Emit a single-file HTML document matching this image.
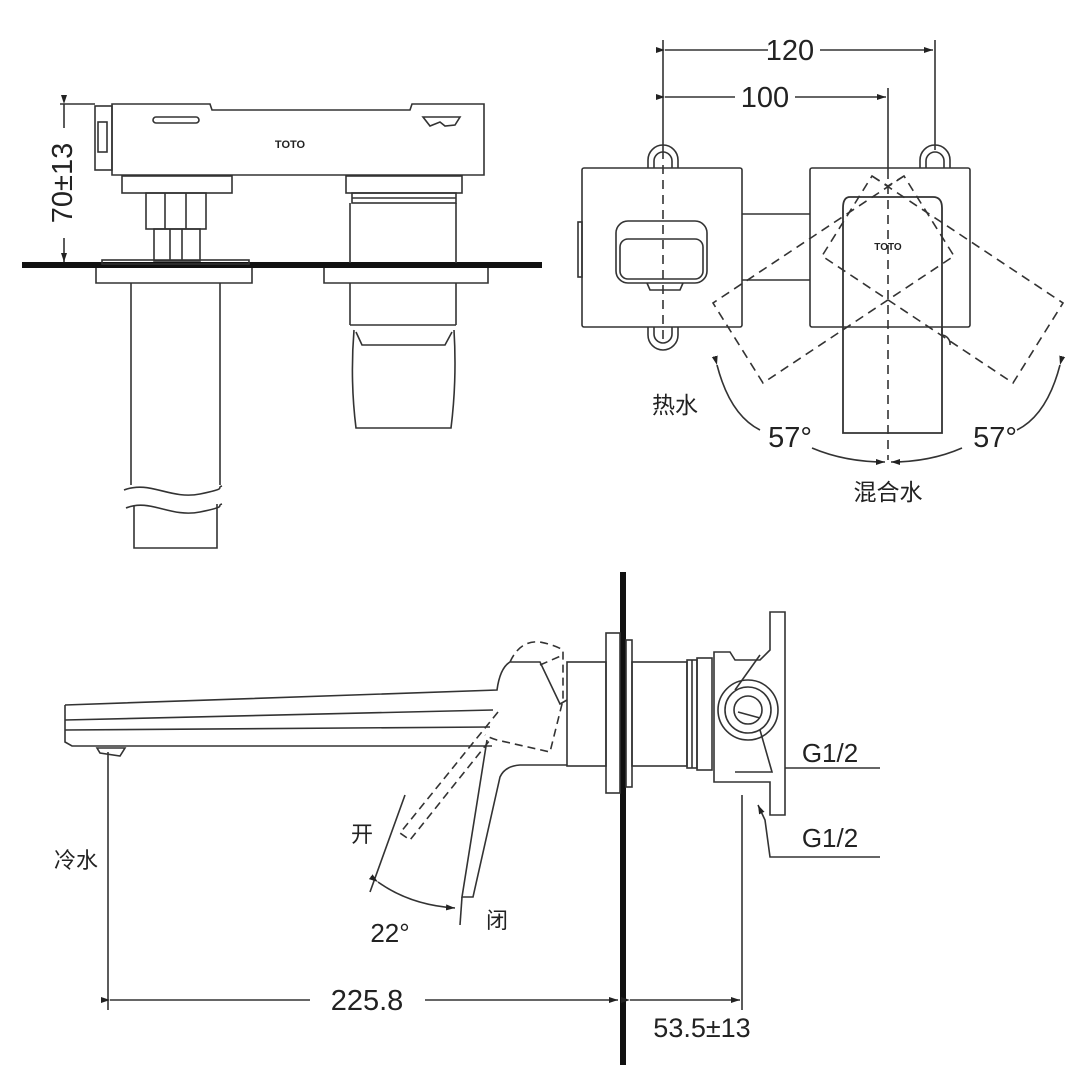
<!DOCTYPE html>
<html><head><meta charset="utf-8"><style>
html,body{margin:0;padding:0;background:#fff}
svg{display:block}
text{font-family:"Liberation Sans","Noto Sans CJK SC",sans-serif;fill:#222}
</style></head><body>
<svg width="1090" height="1090" viewBox="0 0 1090 1090" xmlns="http://www.w3.org/2000/svg">
<defs>
<marker id="ar" markerWidth="10" markerHeight="8" refX="9" refY="4" orient="auto" markerUnits="userSpaceOnUse"><path d="M0,1 L9,4 L0,7 Z" fill="#222"/></marker>
</defs>
<g fill="none" stroke="#333" stroke-width="1.6">
<!-- ===== TOP LEFT VIEW ===== -->
<line x1="22" y1="265" x2="542" y2="265" stroke="#111" stroke-width="6"/>
<path d="M112,104 L210,104 L212,110 L410,110 L412,104 L484,104 L484,175 L112,175 Z"/>
<rect x="95" y="106" width="17" height="64"/>
<rect x="98" y="122" width="9" height="30"/>
<rect x="153" y="117" width="46" height="6" rx="3"/>
<path d="M423,117 L460,117 L455,125 L445,126 L440,122 L430,126 Z"/>
<rect x="122" y="176" width="110" height="17"/>
<rect x="146" y="193" width="60" height="36"/>
<line x1="165" y1="193" x2="165" y2="229"/><line x1="186" y1="193" x2="186" y2="229"/>
<rect x="154" y="229" width="46" height="32"/>
<line x1="170" y1="229" x2="170" y2="261"/><line x1="182" y1="229" x2="182" y2="261"/>
<rect x="102" y="260" width="147" height="4"/>
<path d="M96,268 L96,283 L252,283 L252,268"/>
<line x1="131" y1="283" x2="131" y2="485"/><line x1="220" y1="283" x2="220" y2="485"/>
<path d="M124,490 C150,480 170,500 200,494 S215,488 222,486"/>
<path d="M126,508 C150,498 170,518 200,512 S215,506 222,504"/>
<path d="M134,506 L134,548 L217,548 L217,504"/>
<rect x="346" y="176" width="116" height="17"/>
<rect x="352" y="193" width="104" height="10"/>
<line x1="352" y1="198" x2="456" y2="198"/>
<line x1="350" y1="203" x2="350" y2="263"/><line x1="456" y1="203" x2="456" y2="263"/>
<path d="M324,268 L324,283 L488,283 L488,268"/>
<line x1="350" y1="283" x2="350" y2="325"/><line x1="456" y1="283" x2="456" y2="325"/>
<path d="M350,325 L456,325"/>
<path d="M354,330 Q350,380 356,428 L451,428 Q457,380 454,330"/>
<path d="M356,332 L362,345 L445,345 L452,332"/>
<line x1="64" y1="104" x2="64" y2="128" marker-start="url(#ar)"/>
<line x1="64" y1="238" x2="64" y2="262" marker-end="url(#ar)"/>
<line x1="60" y1="104" x2="95" y2="104"/>

<!-- ===== TOP RIGHT VIEW ===== -->
<line x1="663" y1="40" x2="663" y2="150"/>
<line x1="935" y1="40" x2="935" y2="150"/>
<line x1="888" y1="88" x2="888" y2="170"/>
<line x1="665" y1="50" x2="768" y2="50" marker-start="url(#ar)"/>
<line x1="820" y1="50" x2="933" y2="50" marker-end="url(#ar)"/>
<line x1="665" y1="97" x2="735" y2="97" marker-start="url(#ar)"/>
<line x1="795" y1="97" x2="886" y2="97" marker-end="url(#ar)"/>
<rect x="582" y="168" width="160" height="159" rx="2"/>
<rect x="810" y="168" width="160" height="159" rx="2"/>
<rect x="578" y="222" width="4" height="55"/>
<line x1="742" y1="214" x2="810" y2="214"/><line x1="742" y1="280" x2="810" y2="280"/>
<path d="M648,168 L648,160 A15,15 0 0 1 678,160 L678,168"/>
<path d="M654,168 L654,161 A9,9 0 0 1 672,161 L672,168"/>
<path d="M648,327 L648,335 A15,15 0 0 0 678,335 L678,327"/>
<path d="M654,327 L654,334 A9,9 0 0 0 672,334 L672,327"/>
<path d="M920,168 L920,160 A15,15 0 0 1 950,160 L950,168"/>
<path d="M926,168 L926,161 A9,9 0 0 1 944,161 L944,168"/>
<path d="M942,327 L942,335 A9,9 0 0 1 950,345"/>
<rect x="616" y="221" width="91" height="62" rx="12"/>
<rect x="620" y="239" width="83" height="40" rx="8"/>
<path d="M647,283 L650,290 L680,290 L683,283"/>
<path d="M850,197 L933,197 Q942,197 942,208 L942,433 L843,433 L843,208 Q843,197 850,197 Z" stroke-width="1.8"/>
<g stroke-dasharray="9,6">
<line x1="663" y1="150" x2="663" y2="345"/>
<line x1="888" y1="170" x2="888" y2="460"/>
<polygon points="872,176 1063,303 1013,383 822,256"/>
<polygon points="904,176 713,303 763,383 954,256"/>
<path d="M872,176 L888,186 L904,176"/>
</g>
<path d="M717,365 Q730,415 760,430" marker-start="url(#ar)"/>
<path d="M1060,365 Q1047,415 1017,430" marker-start="url(#ar)"/>
<path d="M812,448 Q845,462 885,462" marker-end="url(#ar)"/>
<path d="M962,448 Q930,462 891,462" marker-end="url(#ar)"/>

<!-- ===== BOTTOM VIEW ===== -->
<line x1="623" y1="572" x2="623" y2="1065" stroke="#111" stroke-width="6"/>
<rect x="606" y="633" width="14" height="160"/>
<rect x="626" y="640" width="6" height="147"/>
<rect x="567" y="662" width="39" height="104"/>
<rect x="632" y="662" width="55" height="104"/>
<rect x="687" y="660" width="10" height="108"/>
<rect x="697" y="658" width="15" height="112"/>
<line x1="692" y1="660" x2="692" y2="768"/>
<path d="M714,652 L730,652 L735,660 L760,660 L770,650 L770,612 L785,612 L785,815 L770,815 L770,782 L714,782 Z"/>
<path d="M735,690 L760,655 M760,730 L772,772 L735,772"/>
<circle cx="748" cy="710" r="30"/>
<circle cx="748" cy="710" r="23"/>
<circle cx="748" cy="710" r="14"/>
<path d="M738,712 L760,718"/>
<path d="M65,705 L497,690 Q500,668 510,662 L540,662 L560,704 L567,700"/>
<path d="M65,705 L65,742 L72,746 L492,746"/>
<line x1="65" y1="720" x2="493" y2="710"/>
<line x1="65" y1="730" x2="490" y2="727"/>
<path d="M97,748 L125,748 L120,756 L100,753 Z"/>
<path d="M567,765 L520,765 Q505,766 500,777 L473,897 L462,897 L487,740"/>
<g stroke-dasharray="8,5">
<path d="M510,662 Q520,640 540,642 Q555,645 563,650 L563,700 L550,752 L497,740 Q490,738 485,735"/>
<path d="M498,712 L400,833 L410,840 L490,740"/>
<path d="M540,665 L563,655"/>
</g>
<line x1="405" y1="795" x2="370" y2="892"/>
<line x1="462" y1="897" x2="460" y2="925"/>
<path d="M378,882 Q410,905 455,908" marker-start="url(#ar)" marker-end="url(#ar)"/>
<line x1="108" y1="752" x2="108" y2="1010"/>
<line x1="742" y1="795" x2="742" y2="1010"/>
<line x1="110" y1="1000" x2="310" y2="1000" marker-start="url(#ar)"/>
<line x1="425" y1="1000" x2="618" y2="1000" marker-end="url(#ar)"/>
<line x1="630" y1="1000" x2="740" y2="1000" marker-start="url(#ar)" marker-end="url(#ar)"/>
<line x1="785" y1="768" x2="880" y2="768"/>
<path d="M880,857 L770,857 L765,820 L758,805" marker-end="url(#ar)"/>
</g>
<g fill="#222">
<text x="290" y="148" font-family="Liberation Serif" font-weight="bold" font-size="11" text-anchor="middle">TOTO</text>
<text x="888" y="250" font-family="Liberation Serif" font-weight="bold" font-size="10" text-anchor="middle">TOTO</text>
<text transform="translate(72,183) rotate(-90)" font-size="29" text-anchor="middle">70±13</text>
<text x="790" y="60" font-size="29" text-anchor="middle">120</text>
<text x="765" y="107" font-size="29" text-anchor="middle">100</text>
<text x="675" y="413" font-size="23" text-anchor="middle">热水</text>
<text x="790" y="447" font-size="29" text-anchor="middle">57°</text>
<text x="995" y="447" font-size="29" text-anchor="middle">57°</text>
<text x="888" y="500" font-size="23" text-anchor="middle">混合水</text>
<text x="830" y="762" font-size="26" text-anchor="middle">G1/2</text>
<text x="830" y="847" font-size="26" text-anchor="middle">G1/2</text>
<text x="76" y="868" font-size="22" text-anchor="middle">冷水</text>
<text x="362" y="842" font-size="22" text-anchor="middle">开</text>
<text x="497" y="928" font-size="22" text-anchor="middle">闭</text>
<text x="390" y="942" font-size="26" text-anchor="middle">22°</text>
<text x="367" y="1010" font-size="29" text-anchor="middle">225.8</text>
<text x="702" y="1037" font-size="27" text-anchor="middle">53.5±13</text>
</g>
</svg>
</body></html>
